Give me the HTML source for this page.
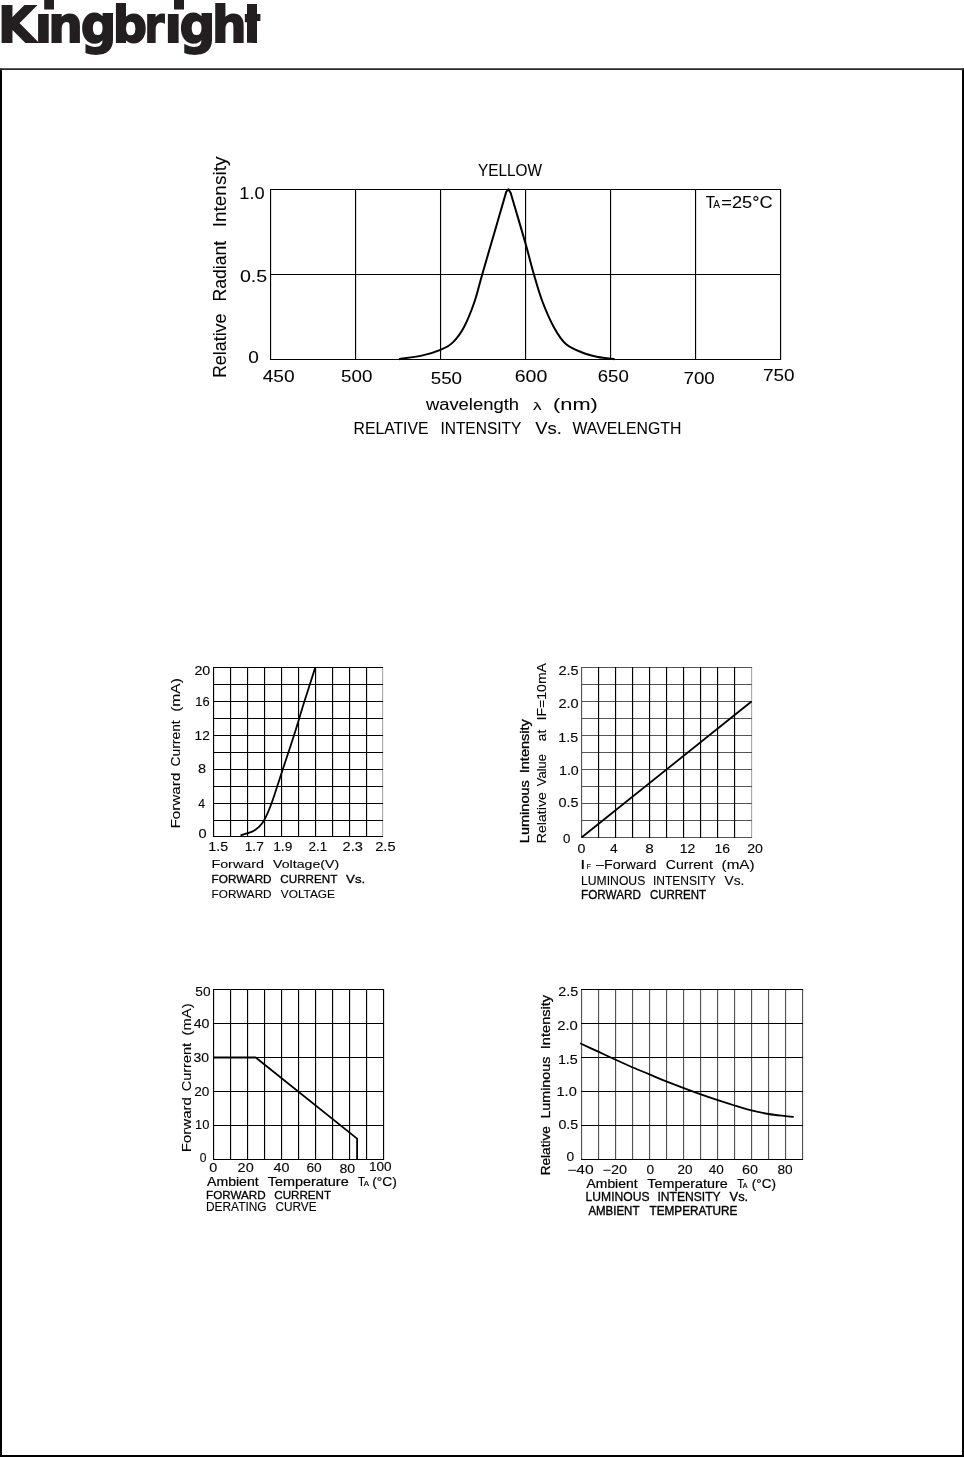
<!DOCTYPE html>
<html lang="en"><head><meta charset="utf-8"><title>Kingbright</title>
<style>
html,body{margin:0;padding:0;background:#fff}
body{width:964px;height:1458px;overflow:hidden}
svg{display:block}
text{font-family:"Liberation Sans",sans-serif;fill:#000;white-space:pre}
text.logo{font-family:"DejaVu Sans","Liberation Sans",sans-serif;fill:#231f20}
</style></head><body>
<svg width="964" height="1458" viewBox="0 0 964 1458">
<rect width="964" height="1458" fill="#fff"/>
<path d="M1 68.4V1456H963V68.4" fill="none" stroke="#000" stroke-width="2"/>
<path d="M0 69.2H964" fill="none" stroke="#2a2a2a" stroke-width="1.7"/>
<text y="41.9" font-size="50" font-weight="700" class="logo" stroke="#231f20" stroke-width="1.8" stroke-linejoin="miter"><tspan x="-2.1" y="41.9" textLength="37.7" lengthAdjust="spacingAndGlyphs">K</tspan><tspan x="34.7" y="41.9" textLength="17.3" lengthAdjust="spacingAndGlyphs">i</tspan><tspan x="48.3" y="41.9" textLength="34.6" lengthAdjust="spacingAndGlyphs">n</tspan><tspan x="80.7" y="43.1" font-size="52.5" textLength="35.6" lengthAdjust="spacingAndGlyphs">g</tspan><tspan x="112.7" y="41.9" textLength="34.3" lengthAdjust="spacingAndGlyphs">b</tspan><tspan x="144.6" y="41.9" textLength="19.9" lengthAdjust="spacingAndGlyphs">r</tspan><tspan x="164.5" y="41.9" textLength="17.5" lengthAdjust="spacingAndGlyphs">i</tspan><tspan x="179.4" y="43.1" font-size="52.5" textLength="35.9" lengthAdjust="spacingAndGlyphs">g</tspan><tspan x="212.0" y="41.9" textLength="34.6" lengthAdjust="spacingAndGlyphs">h</tspan><tspan x="244.9" y="41.9" textLength="15.6" lengthAdjust="spacingAndGlyphs">t</tspan></text>
<path d="M37.7 0H49V13.4H37.7ZM166.7 0H179V13.4H166.7Z" fill="#fff"/><path d="M44.2 0H54V9.6H44.2ZM174 0H184V9.4H174Z" fill="#231f20"/>
<path d="M257 21H263V46H257Z" fill="#fff"/><path d="M247 4H257V42.8H247Z" fill="#231f20"/>
<path d="M270.5 189.0V360.0M355.5 189.0V360.0M440.5 189.0V360.0M525.5 189.0V360.0M610.5 189.0V360.0M695.5 189.0V360.0M780.5 189.0V360.0M270.0 189.5H781.0M270.0 274.5H781.0M270.0 359.5H781.0" stroke="#000" stroke-width="1.16" fill="none" transform="translate(0.06 0.0)"/>
<path d="M398.9 359.2C403.0 358.5 416.7 356.7 423.6 355.1C430.5 353.6 435.6 352.0 440.4 349.9C445.2 347.8 448.6 346.5 452.6 342.6C456.6 338.7 460.6 333.5 464.2 326.7C467.8 319.9 471.4 310.7 474.4 302.0C477.4 293.3 478.6 287.0 482.2 274.4C485.8 261.8 492.2 240.3 496.2 226.5C500.2 212.7 504.6 197.4 506.3 191.6L508.4 189.3L510.7 193.0C513.1 201.2 521.3 228.8 525.2 242.4C529.1 256.0 531.0 264.5 533.9 274.4C536.8 284.3 539.2 293.1 542.6 302.0C546.0 310.9 550.4 321.0 554.3 328.0C558.2 335.0 561.1 339.8 565.9 344.0C570.7 348.2 578.0 350.9 583.3 353.0C588.6 355.1 592.6 355.9 597.8 356.9C603.0 357.9 611.9 358.8 614.7 359.2" stroke="#000" stroke-width="2" fill="none" stroke-linejoin="round" stroke-linecap="butt"/>
<text y="175.5" font-size="15.6" stroke="#000" stroke-width="0.06"><tspan x="478.0" textLength="63.9" lengthAdjust="spacingAndGlyphs">YELLOW</tspan></text>
<text y="207.6" font-size="17" stroke="#000" stroke-width="0.06"><tspan x="705.8" textLength="9.0" lengthAdjust="spacingAndGlyphs">T</tspan> <tspan x="713.3" textLength="6.8" lengthAdjust="spacingAndGlyphs" font-size="10">A</tspan> <tspan x="721.3" textLength="51.4" lengthAdjust="spacingAndGlyphs" font-size="17">=25°C</tspan></text>
<text y="198.5" font-size="15.6" stroke="#000" stroke-width="0.06"><tspan x="239.3" textLength="25.3" lengthAdjust="spacingAndGlyphs">1.0</tspan></text>
<text y="281.6" font-size="15.6" stroke="#000" stroke-width="0.06"><tspan x="239.9" textLength="27.3" lengthAdjust="spacingAndGlyphs">0.5</tspan></text>
<text y="363.3" font-size="16.6" stroke="#000" stroke-width="0.06"><tspan x="248.3" textLength="10.6" lengthAdjust="spacingAndGlyphs">0</tspan></text>
<text y="382.0" font-size="15.6" stroke="#000" stroke-width="0.06"><tspan x="262.7" textLength="31.9" lengthAdjust="spacingAndGlyphs">450</tspan></text>
<text y="382.4" font-size="15.6" stroke="#000" stroke-width="0.06"><tspan x="341.1" textLength="31.3" lengthAdjust="spacingAndGlyphs">500</tspan></text>
<text y="383.5" font-size="15.6" stroke="#000" stroke-width="0.06"><tspan x="430.7" textLength="31.4" lengthAdjust="spacingAndGlyphs">550</tspan></text>
<text y="382.0" font-size="15.6" stroke="#000" stroke-width="0.06"><tspan x="514.7" textLength="32.6" lengthAdjust="spacingAndGlyphs">600</tspan></text>
<text y="382.0" font-size="15.6" stroke="#000" stroke-width="0.06"><tspan x="597.8" textLength="31.0" lengthAdjust="spacingAndGlyphs">650</tspan></text>
<text y="383.6" font-size="15.6" stroke="#000" stroke-width="0.06"><tspan x="683.5" textLength="31.3" lengthAdjust="spacingAndGlyphs">700</tspan></text>
<text y="381.3" font-size="15.6" stroke="#000" stroke-width="0.06"><tspan x="762.9" textLength="31.6" lengthAdjust="spacingAndGlyphs">750</tspan></text>
<text transform="rotate(-90)" y="225.5" font-size="18" stroke="#000" stroke-width="0.06"><tspan x="-378.1" textLength="64.6" lengthAdjust="spacingAndGlyphs">Relative</tspan> <tspan x="-301.6" textLength="60.8" lengthAdjust="spacingAndGlyphs">Radiant</tspan> <tspan x="-227.3" textLength="70.7" lengthAdjust="spacingAndGlyphs">Intensity</tspan></text>
<text y="409.6" font-size="16.5" stroke="#000" stroke-width="0.06"><tspan x="425.9" textLength="93.1" lengthAdjust="spacingAndGlyphs">wavelength</tspan> <tspan x="533.1" textLength="8.6" lengthAdjust="spacingAndGlyphs" font-size="10">λ</tspan> <tspan x="553.0" textLength="44.8" lengthAdjust="spacingAndGlyphs" font-size="16.5">(nm)</tspan></text>
<text y="433.9" font-size="16" stroke="#000" stroke-width="0.06"><tspan x="353.6" textLength="74.8" lengthAdjust="spacingAndGlyphs">RELATIVE</tspan> <tspan x="440.4" textLength="80.7" lengthAdjust="spacingAndGlyphs">INTENSITY</tspan> <tspan x="535.2" textLength="26.7" lengthAdjust="spacingAndGlyphs">Vs.</tspan> <tspan x="572.5" textLength="108.8" lengthAdjust="spacingAndGlyphs">WAVELENGTH</tspan></text>
<path d="M382.5 667.0V837.0" stroke="#aaa" stroke-width="1.16" fill="none" transform="translate(0.06 0.0)"/>
<path d="M213.5 667.0V837.0M230.5 667.0V837.0M247.5 667.0V837.0M264.5 667.0V837.0M281.5 667.0V837.0M298.5 667.0V837.0M315.5 667.0V837.0M332.5 667.0V837.0M349.5 667.0V837.0M366.5 667.0V837.0M213.0 667.5H383.0M213.0 684.5H383.0M213.0 701.5H383.0M213.0 718.5H383.0M213.0 735.5H383.0M213.0 752.5H383.0M213.0 769.5H383.0M213.0 786.5H383.0M213.0 803.5H383.0M213.0 820.5H383.0M213.0 836.5H383.0" stroke="#000" stroke-width="1.16" fill="none" transform="translate(0.06 0.0)"/>
<path d="M240.5 835.3C242.4 834.7 249.2 832.9 252.2 831.6C255.2 830.3 256.4 829.1 258.4 827.3C260.4 825.4 261.8 824.4 264.0 820.5C266.2 816.6 268.3 812.1 271.4 803.8C274.5 795.5 278.6 781.9 282.4 770.5C286.2 759.1 290.2 747.1 294.0 735.3C297.8 723.5 301.4 710.8 305.0 699.5C308.6 688.2 313.6 672.8 315.3 667.4" stroke="#000" stroke-width="1.8" fill="none" stroke-linejoin="round" stroke-linecap="butt"/>
<text y="674.6" font-size="12.0" stroke="#000" stroke-width="0.1"><tspan x="194.4" textLength="15.9" lengthAdjust="spacingAndGlyphs">20</tspan></text>
<text y="705.8" font-size="12.0" stroke="#000" stroke-width="0.1"><tspan x="195.3" textLength="14.3" lengthAdjust="spacingAndGlyphs">16</tspan></text>
<text y="739.5" font-size="12.0" stroke="#000" stroke-width="0.1"><tspan x="194.6" textLength="15.2" lengthAdjust="spacingAndGlyphs">12</tspan></text>
<text y="773.4" font-size="12.0" stroke="#000" stroke-width="0.1"><tspan x="197.9" textLength="8.1" lengthAdjust="spacingAndGlyphs">8</tspan></text>
<text y="808.0" font-size="12.0" stroke="#000" stroke-width="0.1"><tspan x="198.2" textLength="6.8" lengthAdjust="spacingAndGlyphs">4</tspan></text>
<text y="837.8" font-size="12.0" stroke="#000" stroke-width="0.1"><tspan x="198.6" textLength="8.1" lengthAdjust="spacingAndGlyphs">0</tspan></text>
<text y="851.4" font-size="12.0" stroke="#000" stroke-width="0.1"><tspan x="208.3" textLength="19.8" lengthAdjust="spacingAndGlyphs">1.5</tspan></text>
<text y="851.4" font-size="12.0" stroke="#000" stroke-width="0.1"><tspan x="244.7" textLength="19.1" lengthAdjust="spacingAndGlyphs">1.7</tspan></text>
<text y="851.4" font-size="12.0" stroke="#000" stroke-width="0.1"><tspan x="273.2" textLength="19.1" lengthAdjust="spacingAndGlyphs">1.9</tspan></text>
<text y="851.4" font-size="12.0" stroke="#000" stroke-width="0.1"><tspan x="308.5" textLength="18.7" lengthAdjust="spacingAndGlyphs">2.1</tspan></text>
<text y="851.4" font-size="12.0" stroke="#000" stroke-width="0.1"><tspan x="342.6" textLength="20.3" lengthAdjust="spacingAndGlyphs">2.3</tspan></text>
<text y="851.4" font-size="12.0" stroke="#000" stroke-width="0.1"><tspan x="375.3" textLength="20.2" lengthAdjust="spacingAndGlyphs">2.5</tspan></text>
<text transform="rotate(-90)" y="179.8" font-size="12.0" stroke="#000" stroke-width="0.1"><tspan x="-828.5" textLength="55.9" lengthAdjust="spacingAndGlyphs">Forward</tspan> <tspan x="-766.5" textLength="46.2" lengthAdjust="spacingAndGlyphs">Current</tspan> <tspan x="-711.8" textLength="33.6" lengthAdjust="spacingAndGlyphs">(mA)</tspan></text>
<text y="867.6" font-size="11.5" stroke="#000" stroke-width="0.1"><tspan x="211.4" textLength="52.6" lengthAdjust="spacingAndGlyphs">Forward</tspan> <tspan x="273.1" textLength="66.0" lengthAdjust="spacingAndGlyphs">Voltage(V)</tspan></text>
<text y="883.3" font-size="11.5" stroke="#000" stroke-width="0.3"><tspan x="211.6" textLength="60.0" lengthAdjust="spacingAndGlyphs">FORWARD</tspan> <tspan x="280.3" textLength="56.8" lengthAdjust="spacingAndGlyphs">CURRENT</tspan> <tspan x="346.1" textLength="19.2" lengthAdjust="spacingAndGlyphs">Vs.</tspan></text>
<text y="897.8" font-size="11.8" stroke="#000" stroke-width="0.1"><tspan x="211.6" textLength="60.0" lengthAdjust="spacingAndGlyphs">FORWARD</tspan> <tspan x="280.8" textLength="54.2" lengthAdjust="spacingAndGlyphs">VOLTAGE</tspan></text>
<path d="M751.5 667.0V838.0" stroke="#aaa" stroke-width="1.16" fill="none" transform="translate(0.06 0.0)"/>
<path d="M581.5 667.0V838.0M581.0 667.5H752.0M581.0 684.5H752.0M581.0 701.5H752.0M581.0 718.5H752.0M581.0 735.5H752.0M581.0 752.5H752.0M581.0 769.5H752.0M581.0 786.5H752.0M581.0 803.5H752.0M581.0 820.5H752.0M581.0 837.5H752.0" stroke="#555" stroke-width="1.16" fill="none" transform="translate(0.06 0.0)"/>
<path d="M598.5 667.0V838.0M615.5 667.0V838.0M632.5 667.0V838.0M649.5 667.0V838.0M666.5 667.0V838.0M683.5 667.0V838.0M700.5 667.0V838.0M717.5 667.0V838.0M734.5 667.0V838.0" stroke="#000" stroke-width="1.16" fill="none" transform="translate(0.06 0.0)"/>
<path d="M581.5 837.5L751.5 701.5" stroke="#000" stroke-width="1.8" fill="none" stroke-linejoin="round" stroke-linecap="butt"/>
<text y="674.6" font-size="12.0" stroke="#000" stroke-width="0.1"><tspan x="558.4" textLength="20.2" lengthAdjust="spacingAndGlyphs">2.5</tspan></text>
<text y="708.0" font-size="12.0" stroke="#000" stroke-width="0.1"><tspan x="558.4" textLength="20.2" lengthAdjust="spacingAndGlyphs">2.0</tspan></text>
<text y="741.8" font-size="12.0" stroke="#000" stroke-width="0.1"><tspan x="558.3" textLength="19.8" lengthAdjust="spacingAndGlyphs">1.5</tspan></text>
<text y="774.8" font-size="12.0" stroke="#000" stroke-width="0.1"><tspan x="559.0" textLength="19.8" lengthAdjust="spacingAndGlyphs">1.0</tspan></text>
<text y="807.0" font-size="12.0" stroke="#000" stroke-width="0.1"><tspan x="558.5" textLength="20.1" lengthAdjust="spacingAndGlyphs">0.5</tspan></text>
<text y="842.6" font-size="12.0" stroke="#000" stroke-width="0.1"><tspan x="562.9" textLength="7.4" lengthAdjust="spacingAndGlyphs">0</tspan></text>
<text y="852.8" font-size="12.0" stroke="#000" stroke-width="0.1"><tspan x="577.4" textLength="7.9" lengthAdjust="spacingAndGlyphs">0</tspan></text>
<text y="852.8" font-size="12.0" stroke="#000" stroke-width="0.1"><tspan x="609.9" textLength="7.7" lengthAdjust="spacingAndGlyphs">4</tspan></text>
<text y="852.8" font-size="12.0" stroke="#000" stroke-width="0.1"><tspan x="645.3" textLength="8.5" lengthAdjust="spacingAndGlyphs">8</tspan></text>
<text y="852.8" font-size="12.0" stroke="#000" stroke-width="0.1"><tspan x="679.7" textLength="15.6" lengthAdjust="spacingAndGlyphs">12</tspan></text>
<text y="852.8" font-size="12.0" stroke="#000" stroke-width="0.1"><tspan x="714.6" textLength="15.5" lengthAdjust="spacingAndGlyphs">16</tspan></text>
<text y="852.8" font-size="12.0" stroke="#000" stroke-width="0.1"><tspan x="747.2" textLength="15.8" lengthAdjust="spacingAndGlyphs">20</tspan></text>
<text transform="rotate(-90)" y="529.1" font-size="12.0" stroke="#000" stroke-width="0.3"><tspan x="-843.2" textLength="63.0" lengthAdjust="spacingAndGlyphs">Luminous</tspan> <tspan x="-773.3" textLength="54.2" lengthAdjust="spacingAndGlyphs">Intensity</tspan></text>
<text transform="rotate(-90)" y="546.4" font-size="12.0" stroke="#000" stroke-width="0.1"><tspan x="-843.2" textLength="51.0" lengthAdjust="spacingAndGlyphs">Relative</tspan> <tspan x="-786.2" textLength="32.1" lengthAdjust="spacingAndGlyphs">Value</tspan> <tspan x="-741.2" textLength="11.4" lengthAdjust="spacingAndGlyphs">at</tspan> <tspan x="-720.5" textLength="57.5" lengthAdjust="spacingAndGlyphs">IF=10mA</tspan></text>
<text y="868.8" font-size="12" stroke="#000" stroke-width="0.1"><tspan x="580.3" textLength="5.1" lengthAdjust="spacingAndGlyphs">I</tspan> <tspan x="586.4" textLength="4.6" lengthAdjust="spacingAndGlyphs" font-size="7.5">F</tspan> <tspan x="596.0" textLength="60.4" lengthAdjust="spacingAndGlyphs" font-size="12">–Forward</tspan> <tspan x="665.8" textLength="47.0" lengthAdjust="spacingAndGlyphs">Current</tspan> <tspan x="721.6" textLength="33.0" lengthAdjust="spacingAndGlyphs">(mA)</tspan></text>
<text y="884.7" font-size="12" stroke="#000" stroke-width="0.1"><tspan x="581.0" textLength="64.3" lengthAdjust="spacingAndGlyphs">LUMINOUS</tspan> <tspan x="652.9" textLength="62.6" lengthAdjust="spacingAndGlyphs">INTENSITY</tspan> <tspan x="724.5" textLength="19.9" lengthAdjust="spacingAndGlyphs">Vs.</tspan></text>
<text y="899.2" font-size="12" stroke="#000" stroke-width="0.3"><tspan x="581.0" textLength="60.0" lengthAdjust="spacingAndGlyphs">FORWARD</tspan> <tspan x="649.9" textLength="56.2" lengthAdjust="spacingAndGlyphs">CURRENT</tspan></text>
<path d="M213.5 989.0V1160.0M230.5 989.0V1160.0M247.5 989.0V1160.0M264.5 989.0V1160.0M281.5 989.0V1160.0M298.5 989.0V1160.0M315.5 989.0V1160.0M332.5 989.0V1160.0M349.5 989.0V1160.0M366.5 989.0V1160.0M383.5 989.0V1160.0M213.0 989.5H384.0M213.0 1023.5H384.0M213.0 1057.5H384.0M213.0 1091.5H384.0M213.0 1125.5H384.0M213.0 1159.5H384.0" stroke="#000" stroke-width="1.16" fill="none" transform="translate(0.06 0.0)"/>
<path d="M213.5 1057.5H255.7L357.1 1138.6V1159.5" stroke="#000" stroke-width="1.8" fill="none" stroke-linejoin="round" stroke-linecap="butt"/>
<text y="995.6" font-size="12.0" stroke="#000" stroke-width="0.1"><tspan x="195.3" textLength="15.2" lengthAdjust="spacingAndGlyphs">50</tspan></text>
<text y="1028.3" font-size="12.0" stroke="#000" stroke-width="0.1"><tspan x="193.7" textLength="15.8" lengthAdjust="spacingAndGlyphs">40</tspan></text>
<text y="1062.3" font-size="12.0" stroke="#000" stroke-width="0.1"><tspan x="193.5" textLength="15.6" lengthAdjust="spacingAndGlyphs">30</tspan></text>
<text y="1095.7" font-size="12.0" stroke="#000" stroke-width="0.1"><tspan x="194.3" textLength="15.1" lengthAdjust="spacingAndGlyphs">20</tspan></text>
<text y="1128.5" font-size="12.0" stroke="#000" stroke-width="0.1"><tspan x="195.1" textLength="14.3" lengthAdjust="spacingAndGlyphs">10</tspan></text>
<text y="1161.9" font-size="12.0" stroke="#000" stroke-width="0.1"><tspan x="199.7" textLength="6.7" lengthAdjust="spacingAndGlyphs">0</tspan></text>
<text y="1171.6" font-size="12.0" stroke="#000" stroke-width="0.1"><tspan x="209.3" textLength="8.0" lengthAdjust="spacingAndGlyphs">0</tspan></text>
<text y="1171.6" font-size="12.0" stroke="#000" stroke-width="0.1"><tspan x="237.6" textLength="16.1" lengthAdjust="spacingAndGlyphs">20</tspan></text>
<text y="1171.6" font-size="12.0" stroke="#000" stroke-width="0.1"><tspan x="273.5" textLength="15.9" lengthAdjust="spacingAndGlyphs">40</tspan></text>
<text y="1172.0" font-size="12.0" stroke="#000" stroke-width="0.1"><tspan x="306.4" textLength="15.3" lengthAdjust="spacingAndGlyphs">60</tspan></text>
<text y="1173.0" font-size="12.0" stroke="#000" stroke-width="0.1"><tspan x="339.5" textLength="15.7" lengthAdjust="spacingAndGlyphs">80</tspan></text>
<text y="1171.3" font-size="12.0" stroke="#000" stroke-width="0.1"><tspan x="368.9" textLength="22.6" lengthAdjust="spacingAndGlyphs">100</tspan></text>
<text transform="rotate(-90)" y="191.1" font-size="12.0" stroke="#000" stroke-width="0.1"><tspan x="-1152.2" textLength="55.0" lengthAdjust="spacingAndGlyphs">Forward</tspan> <tspan x="-1091.3" textLength="48.4" lengthAdjust="spacingAndGlyphs">Current</tspan> <tspan x="-1035.5" textLength="32.1" lengthAdjust="spacingAndGlyphs">(mA)</tspan></text>
<text y="1186.0" font-size="12" stroke="#000" stroke-width="0.2"><tspan x="207.0" textLength="51.7" lengthAdjust="spacingAndGlyphs">Ambient</tspan> <tspan x="267.7" textLength="81.0" lengthAdjust="spacingAndGlyphs">Temperature</tspan> <tspan x="358.1" textLength="6.7" lengthAdjust="spacingAndGlyphs">T</tspan> <tspan x="363.8" textLength="5.3" lengthAdjust="spacingAndGlyphs" font-size="7">A</tspan> <tspan x="372.2" textLength="24.6" lengthAdjust="spacingAndGlyphs" font-size="13">(°C)</tspan></text>
<text y="1198.6" font-size="11.6" stroke="#000" stroke-width="0.3"><tspan x="206.1" textLength="59.6" lengthAdjust="spacingAndGlyphs">FORWARD</tspan> <tspan x="274.3" textLength="56.7" lengthAdjust="spacingAndGlyphs">CURRENT</tspan></text>
<text y="1210.8" font-size="12" stroke="#000" stroke-width="0.1"><tspan x="206.0" textLength="60.6" lengthAdjust="spacingAndGlyphs">DERATING</tspan> <tspan x="275.4" textLength="41.2" lengthAdjust="spacingAndGlyphs">CURVE</tspan></text>
<path d="M581.5 989.0V1160.0M598.5 989.0V1160.0M615.5 989.0V1160.0M632.5 989.0V1160.0M649.5 989.0V1160.0M666.5 989.0V1160.0M683.5 989.0V1160.0M700.5 989.0V1160.0M717.5 989.0V1160.0M734.5 989.0V1160.0M751.5 989.0V1160.0M768.5 989.0V1160.0M785.5 989.0V1160.0M802.5 989.0V1160.0" stroke="#555" stroke-width="1.16" fill="none" transform="translate(0.06 0.0)"/>
<path d="M581.0 989.5H803.0M581.0 1023.5H803.0M581.0 1057.5H803.0M581.0 1091.5H803.0M581.0 1125.5H803.0M581.0 1159.5H803.0" stroke="#000" stroke-width="1.16" fill="none" transform="translate(0.06 0.0)"/>
<path d="M580.1 1043.3C582.8 1044.5 590.8 1048.2 596.0 1050.6C601.2 1053.0 605.6 1055.2 611.3 1057.8C617.0 1060.4 623.6 1063.4 630.0 1066.2C636.4 1069.0 643.3 1071.8 649.4 1074.4C655.5 1077.0 659.6 1078.9 666.8 1081.7C674.0 1084.5 684.0 1088.3 692.5 1091.4C701.0 1094.5 710.8 1097.9 717.8 1100.2C724.8 1102.5 729.0 1103.8 734.6 1105.5C740.2 1107.2 745.7 1108.9 751.4 1110.3C757.1 1111.7 762.9 1113.0 768.6 1114.0C774.3 1115.0 781.5 1115.6 785.7 1116.1C789.9 1116.6 792.4 1116.8 793.7 1116.9" stroke="#000" stroke-width="1.8" fill="none" stroke-linejoin="round" stroke-linecap="butt"/>
<text y="995.6" font-size="12.0" stroke="#000" stroke-width="0.1"><tspan x="558.3" textLength="19.9" lengthAdjust="spacingAndGlyphs">2.5</tspan></text>
<text y="1029.5" font-size="12.0" stroke="#000" stroke-width="0.1"><tspan x="557.2" textLength="20.6" lengthAdjust="spacingAndGlyphs">2.0</tspan></text>
<text y="1063.6" font-size="12.0" stroke="#000" stroke-width="0.1"><tspan x="557.9" textLength="19.9" lengthAdjust="spacingAndGlyphs">1.5</tspan></text>
<text y="1095.8" font-size="12.0" stroke="#000" stroke-width="0.1"><tspan x="556.5" textLength="20.3" lengthAdjust="spacingAndGlyphs">1.0</tspan></text>
<text y="1128.5" font-size="12.0" stroke="#000" stroke-width="0.1"><tspan x="558.4" textLength="19.8" lengthAdjust="spacingAndGlyphs">0.5</tspan></text>
<text y="1161.4" font-size="12.0" stroke="#000" stroke-width="0.1"><tspan x="566.5" textLength="7.7" lengthAdjust="spacingAndGlyphs">0</tspan></text>
<text y="1173.5" font-size="12.0" stroke="#000" stroke-width="0.1"><tspan x="567.2" textLength="26.6" lengthAdjust="spacingAndGlyphs">−40</tspan></text>
<text y="1173.5" font-size="12.0" stroke="#000" stroke-width="0.1"><tspan x="602.6" textLength="24.6" lengthAdjust="spacingAndGlyphs">−20</tspan></text>
<text y="1173.5" font-size="12.0" stroke="#000" stroke-width="0.1"><tspan x="646.4" textLength="7.6" lengthAdjust="spacingAndGlyphs">0</tspan></text>
<text y="1173.5" font-size="12.0" stroke="#000" stroke-width="0.1"><tspan x="677.4" textLength="15.0" lengthAdjust="spacingAndGlyphs">20</tspan></text>
<text y="1173.5" font-size="12.0" stroke="#000" stroke-width="0.1"><tspan x="708.7" textLength="15.1" lengthAdjust="spacingAndGlyphs">40</tspan></text>
<text y="1173.5" font-size="12.0" stroke="#000" stroke-width="0.1"><tspan x="742.0" textLength="15.9" lengthAdjust="spacingAndGlyphs">60</tspan></text>
<text y="1173.5" font-size="12.0" stroke="#000" stroke-width="0.1"><tspan x="777.4" textLength="15.2" lengthAdjust="spacingAndGlyphs">80</tspan></text>
<text transform="rotate(-90)" y="549.7" font-size="12.0" stroke="#000" stroke-width="0.25"><tspan x="-1175.3" textLength="49.1" lengthAdjust="spacingAndGlyphs">Relative</tspan> <tspan x="-1118.6" textLength="61.9" lengthAdjust="spacingAndGlyphs">Luminous</tspan> <tspan x="-1049.2" textLength="54.3" lengthAdjust="spacingAndGlyphs">Intensity</tspan></text>
<text y="1188.0" font-size="12" stroke="#000" stroke-width="0.2"><tspan x="586.6" textLength="50.9" lengthAdjust="spacingAndGlyphs">Ambient</tspan> <tspan x="647.3" textLength="80.5" lengthAdjust="spacingAndGlyphs">Temperature</tspan> <tspan x="737.2" textLength="6.6" lengthAdjust="spacingAndGlyphs">T</tspan> <tspan x="742.8" textLength="4.7" lengthAdjust="spacingAndGlyphs" font-size="7">A</tspan> <tspan x="751.8" textLength="24.2" lengthAdjust="spacingAndGlyphs" font-size="13">(°C)</tspan></text>
<text y="1201.1" font-size="12" stroke="#000" stroke-width="0.3"><tspan x="585.6" textLength="63.9" lengthAdjust="spacingAndGlyphs">LUMINOUS</tspan> <tspan x="657.4" textLength="63.1" lengthAdjust="spacingAndGlyphs">INTENSITY</tspan> <tspan x="729.5" textLength="18.7" lengthAdjust="spacingAndGlyphs">Vs.</tspan></text>
<text y="1214.6" font-size="12.5" stroke="#000" stroke-width="0.4"><tspan x="588.4" textLength="50.8" lengthAdjust="spacingAndGlyphs">AMBIENT</tspan> <tspan x="649.5" textLength="87.9" lengthAdjust="spacingAndGlyphs">TEMPERATURE</tspan></text>
</svg>
</body></html>
